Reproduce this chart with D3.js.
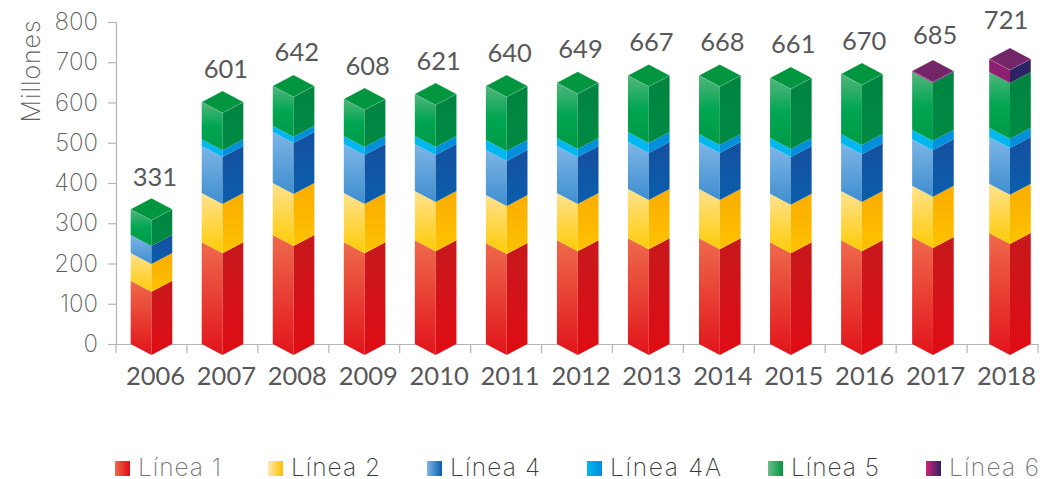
<!DOCTYPE html>
<html>
<head>
<meta charset="utf-8">
<script src="https://cdn.jsdelivr.net/npm/d3@7"></script>
<style>
  html, body { margin: 0; padding: 0; background: #fff; }
  svg { display: block; }
  text { font-family: Lato, sans-serif; }
</style>
</head>
<body>
<svg id="chart" width="1046" height="479"></svg>
<script>
let years = ["2006","2007","2008","2009","2010","2011","2012","2013","2014","2015","2016","2017","2018"];
let totals = [331,601,642,608,621,640,649,667,668,661,670,685,721];

// values
let linea1  = [157,253,271,253,258,251,258,263,263,253,258,266,276];
let linea2  = [69,122,129,122,122,119,117,122,122,120,122,127,122];
let linea4  = [45,117,127,122,117,112,117,117,117,119,119,116,116];
let linea4A = [0,17,15,20,20,25,20,25,20,20,23,23,23];
let linea5  = [64,92,99,92,104,134,137,140,145,149,149,144,139];
let linea6  = [0,0,0,0,0,0,0,0,0,0,0,2,32];

let seriesNames = ["Línea 1","Línea 2","Línea 4","Línea 4A","Línea 5","Línea 6"];
let seriesValues = [linea1,linea2,linea4,linea4A,linea5,linea6];
let yTicks = [0,100,200,300,400,500,600,700,800];

// left face gradient, right face gradient, roof
let seriesColors = [
  { left: ["#ee6a4c","#e2141b"], right: ["#c6191c","#e00c14"], top: "#c6191c", key: ["#ee6a4c","#e00c14"], text: "#777" },
  { left: ["#ffe28f","#ffcb05"], right: ["#f9ad00","#ffc200"], top: "#f9ad00", key: ["#ffe9ad","#ffc000"], text: "#3c3c3c" },
  { left: ["#7cb5e6","#3f8ecf"], right: ["#15509f","#0a5eac"], top: "#15509f", key: ["#7cb5e6","#0a5eac"], text: "#3c3c3c" },
  { left: ["#00b7f0","#00b7f0"], right: ["#008fda","#008fda"], top: "#008fda", key: ["#00b7f0","#008fda"], text: "#3c3c3c" },
  { left: ["#52b57c","#00a651","#009a46"], right: ["#008440","#008a42"], top: "#009640", key: ["#6cbd8a","#009640"], text: "#3c3c3c" },
  { left: ["#8f1f70","#8f1f70"], right: ["#2b2363","#2b2363"], top: "#722668", key: ["#d4237a","#2b2363"], text: "#777" }
];

let barHalf = 20.8;
let roofDrop = 11;
let legendTextWidths = [83,89,90,111,88,90];

let svg = d3.select("#chart");

let x = d3.scaleBand().domain(years).range([116, 1038]);
let y = d3.scaleLinear().domain([0, 800]).range([344, 22]);

// the last column sits a little apart from the others in the original
function barCenter(year, i) {
  return x(year) + x.bandwidth() / 2 + i * 0.12 + (year === "2018" ? 6 : 0);
}

// gradients
let defs = svg.append("defs");
seriesColors.forEach((c, s) => {
  ["left", "right"].forEach((side) => {
    let g = defs.append("linearGradient")
      .attr("id", `g${s}${side}`)
      .attr("x1", 0).attr("y1", 0).attr("x2", 0).attr("y2", 1);
    c[side].forEach((col, k) => {
      g.append("stop")
        .attr("offset", k / (c[side].length - 1))
        .attr("stop-color", col);
    });
  });
  let k = defs.append("linearGradient").attr("id", `k${s}`);
  k.append("stop").attr("offset", 0).attr("stop-color", c.key[0]);
  k.append("stop").attr("offset", 1).attr("stop-color", c.key[1]);
});

// axes
let gy = svg.append("g")
  .attr("transform", "translate(116,0)")
  .call(d3.axisLeft(y).tickValues(yTicks).tickSize(8).tickPadding(10).tickFormat(d3.format("d")));
gy.selectAll("text")
  .attr("font-size", 24).attr("font-weight", 200)
  .style("font-family", "Inter, sans-serif")
  .attr("fill", "#606060");

let gx = svg.append("g")
  .attr("transform", "translate(0,344)")
  .call(d3.axisBottom(x).tickSize(0).tickPadding(23));
gx.selectAll("text")
  .attr("font-size", 25.5)
  .attr("fill", "#58585a")
  .attr("dx", 4);
// ticks sit between the columns
gx.selectAll(".edge")
  .data(x.domain().concat("end"))
  .enter()
  .append("line")
  .attr("class", "edge")
  .attr("x1", (d) => d === "end" ? x.range()[1] : x(d))
  .attr("x2", (d) => d === "end" ? x.range()[1] : x(d))
  .attr("y1", 0).attr("y2", 9);

svg.selectAll(".domain, .tick line, .edge")
  .attr("stroke", "#b5b5b5").attr("stroke-width", 1.2);

svg.append("text")
  .attr("transform", "translate(40,71) rotate(-90)")
  .attr("text-anchor", "middle")
  .attr("font-size", 25).attr("font-weight", 200)
  .attr("letter-spacing", 0.9)
  .style("font-family", "Inter, sans-serif")
  .attr("fill", "#606060")
  .text("Millones");

// stacked columns
years.forEach((year, i) => {
  let cx = barCenter(year, i);
  let base = 0;
  let group = svg.append("g");
  let lastSeries = 0;
  let lastTop = 0;
  seriesValues.forEach((vals, s) => {
    let v = vals[i];
    if (v === 0) return;
    let yb = y(base);
    let yt = y(base + v);
    group.append("path")
      .attr("d", d3.line()([[cx - barHalf, yt], [cx, yt + roofDrop], [cx, yb + roofDrop], [cx - barHalf, yb]]) + "Z")
      .attr("fill", `url(#g${s}left)`);
    group.append("path")
      .attr("d", d3.line()([[cx + barHalf, yt], [cx, yt + roofDrop], [cx, yb + roofDrop], [cx + barHalf, yb]]) + "Z")
      .attr("fill", `url(#g${s}right)`);
    base += v;
    lastSeries = s;
    lastTop = yt;
  });
  group.append("path")
    .attr("d", d3.line()([[cx - barHalf, lastTop], [cx, lastTop - roofDrop], [cx + barHalf, lastTop], [cx, lastTop + roofDrop]]) + "Z")
    .attr("fill", seriesColors[lastSeries].top)
    .attr("stroke", "#fff").attr("stroke-opacity", 0.25).attr("stroke-width", 0.7);
});

// total labels
svg.selectAll(".total")
  .data(years)
  .enter()
  .append("text")
  .attr("class", "total")
  .attr("x", (d) => x(d) + x.bandwidth() / 2 + 3.5)
  .attr("y", (d, i) => y(totals[i]) - 24.5)
  .attr("text-anchor", "middle")
  .attr("font-size", 25.5)
  .attr("fill", "#58585a")
  .text((d, i) => totals[i]);

// legend, each entry follows the previous one
let legendX = 115;
seriesNames.forEach((name, s) => {
  svg.append("rect")
    .attr("x", legendX).attr("y", 461)
    .attr("width", 15).attr("height", 15)
    .attr("fill", `url(#k${s})`);
  svg.append("text")
    .attr("x", legendX + 23).attr("y", 476)
    .attr("font-size", 24.5).attr("font-weight", 200)
    .attr("textLength", legendTextWidths[s])
    .attr("lengthAdjust", "spacing")
    .style("font-family", "Inter, sans-serif")
    .attr("fill", seriesColors[s].text)
    .text(name);
  legendX += 23 + legendTextWidths[s] + 47;
});
</script>
</body>
</html>
